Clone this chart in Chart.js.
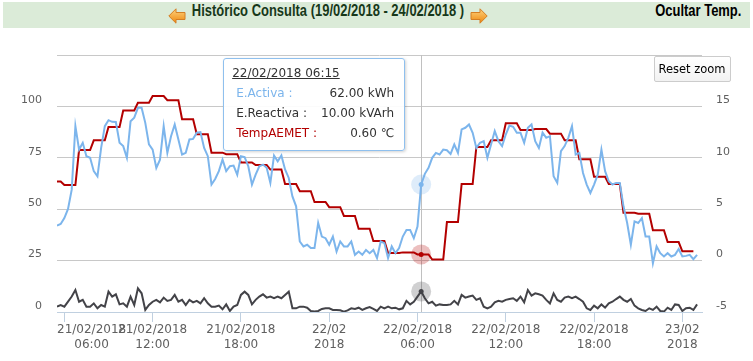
<!DOCTYPE html>
<html>
<head>
<meta charset="utf-8">
<script src="https://cdn.jsdelivr.net/npm/chart.js@4.4.1/dist/chart.umd.min.js"></script>
<style>
  html, body { margin:0; padding:0; background:#fff; }
  #wrap { position:relative; width:753px; height:361px; overflow:hidden; }
  #c { position:absolute; left:0; top:0; }
  #band { position:absolute; left:3px; top:2px; width:747px; height:26px; background:#dbebd8; }
  #title { position:absolute; left:0; top:2px; width:656px; height:26px; line-height:26px; text-align:center;
           font:bold 16px "Liberation Sans", Arial, sans-serif; color:#17381a;
           transform:scaleX(0.81); transform-origin:328px 50%; white-space:nowrap; }
  #hide { position:absolute; right:12px; top:2px; height:26px; line-height:26px; white-space:nowrap;
          font:bold 16px "Liberation Sans", Arial, sans-serif; color:#000;
          transform:scaleX(0.81); transform-origin:100% 50%; }
  .arr { position:absolute; top:8px; }
  #reset { position:absolute; left:653.5px; top:55.5px; width:77px; height:26px; box-sizing:border-box;
           border:1px solid #cccccc; border-radius:2px; background:linear-gradient(#ffffff,#f2f2f2);
           font:11.5px "DejaVu Sans", sans-serif; color:#000; text-align:center; line-height:24px; }
  #tip { position:absolute; width:182px; height:93px; box-sizing:border-box; border:1px solid #8fc0ee;
         border-radius:3px; background:rgba(255,255,255,0.92); box-shadow:1px 1px 3px rgba(0,0,0,0.18);
         font:12px "DejaVu Sans", sans-serif; color:#333; }
  #tip div { position:absolute; line-height:14px; white-space:nowrap; }
  #tip .t { left:8px; top:7px; text-decoration:underline; }
  #tip .l { left:12px; }
  #tip .v { right:10px; text-align:right; }
</style>
</head>
<body>
<div id="wrap">
  <canvas id="c" width="753" height="361"></canvas>
  <div id="band"></div>
  <svg class="arr" style="left:168px" width="18" height="16" viewBox="0 0 18 16">
    <defs><linearGradient id="ga" x1="0" y1="0" x2="0" y2="1"><stop offset="0" stop-color="#fdd37e"/><stop offset="1" stop-color="#ee870f"/></linearGradient></defs>
    <polygon points="0.8,8 8,0.8 8,4.5 17,4.5 17,11.5 8,11.5 8,15.2" fill="url(#ga)" stroke="#d47f25" stroke-width="1"/>
  </svg>
  <div id="title">Histórico Consulta (19/02/2018 - 24/02/2018 )</div>
  <svg class="arr" style="left:470px" width="18" height="16" viewBox="0 0 18 16">
    <defs><linearGradient id="gb" x1="0" y1="0" x2="0" y2="1"><stop offset="0" stop-color="#fdd37e"/><stop offset="1" stop-color="#ee870f"/></linearGradient></defs>
    <polygon points="17.2,8 10,0.8 10,4.5 1,4.5 1,11.5 10,11.5 10,15.2" fill="url(#gb)" stroke="#d47f25" stroke-width="1"/>
  </svg>
  <div id="hide">Ocultar Temp.</div>
  <div id="reset">Reset zoom</div>
  <div id="tip"></div>
</div>
<script>
// ---- time axis: 15-minute samples starting 21/02/2018 05:30 (hours since 21/02/2018 00:00)
const startHour = 5.5;
const stepHours = 0.25;
const xMin = 5.5;
const xMax = 49.336;

// x tick positions (hours) and their labels
const tickHours = [6, 12, 18, 24, 30, 36, 42, 48];
const tickLabels = [
  ['21/02/2018', '06:00'], ['21/02/2018', '12:00'], ['21/02/2018', '18:00'], ['22/02', '2018'],
  ['22/02/2018', '06:00'], ['22/02/2018', '12:00'], ['22/02/2018', '18:00'], ['23/02', '2018']
];

// E.Activa (kWh), every 15 min
const activa = [
  42.0, 42.8, 45.7, 50.1, 59.5, 90.4, 79.0, 82.3, 75.8, 75.0,
  68.5, 66.0, 79.8, 90.4, 93.3, 92.5, 92.4, 82.3, 80.7, 75.0,
  92.8, 94.5, 99.3, 99.3, 92.0, 81.5, 79.0, 70.1, 74.1, 90.4,
  77.4, 85.5, 91.2, 83.9, 76.6, 77.4, 83.9, 84.2, 87.2, 87.5,
  79.8, 75.8, 62.0, 64.7, 68.5, 74.1, 68.5, 70.9, 71.2, 66.8,
  75.8, 75.3, 70.9, 62.0, 66.8, 70.9, 71.7, 70.1, 62.8, 76.1,
  73.3, 76.1, 69.3, 65.2,
  56.2, 51.4, 34.3, 31.9, 32.7, 31.1, 31.1, 43.3, 36.7, 35.9,
  32.7, 36.7, 29.4, 34.3, 31.9, 31.9, 34.3, 27.8, 29.4, 27.8,
  30.2, 28.6, 30.2, 26.2, 34.3, 33.5, 26.2, 31.9, 28.6, 31.1,
  36.7, 39.9, 39.9, 35.9, 41.5, 62.0,
  67.2, 70.1, 75.0, 77.4, 76.6, 79.0, 78.7, 76.9, 81.5, 77.4,
  88.8, 89.6, 91.2, 87.2, 79.8, 82.3, 83.1, 75.0, 81.5, 88.0,
  83.1, 80.7, 86.3, 90.7, 90.1, 87.2,
  87.2, 82.3, 89.6, 91.2, 83.1, 79.8, 87.2, 84.7, 85.5, 66.0,
  62.8, 78.2, 80.7, 84.7, 90.4, 76.6, 77.4, 67.6, 62.0, 57.9,
  62.0, 66.8, 79.0, 68.5, 63.6, 62.0, 62.8, 62.8, 51.4, 43.3,
  32.7, 44.1, 43.3, 45.7, 36.7, 36.7, 23.7, 31.9, 28.6, 27.0,
  28.6, 27.0, 27.8, 30.6, 27.0, 27.3, 27.8, 25.7, 27.8
];

// E.Reactiva (kVArh), every 15 min
const reactiva = [
  2.6, 3.4, 2.6, 5.0, 7.5, 10.7, 5.0, 5.9, 2.6, 2.6,
  4.2, 1.8, 3.4, 2.6, 9.9, 7.5, 8.6, 3.7, 4.2, 2.6,
  7.5, 3.4, 11.5, 9.1, 1.0, 3.4, 5.0, 5.9, 4.7, 7.0,
  5.4, 5.9, 8.3, 5.0, 5.9, 3.4, 5.9, 4.7, 5.4, 4.2,
  6.7, 4.2, 2.6, 2.6, 3.1, 1.3, 3.7, 0.5, 2.6, 3.4,
  8.3, 9.9, 8.3, 3.7, 5.9, 7.5, 8.6, 7.0, 7.5, 6.7,
  7.5, 6.7, 8.3, 9.9, 1.8, 1.8, 2.6, 2.6, 2.1, 0.5,
  0.2, 0.5, 1.5, 1.8, 1.8, 1.0, 1.0, 0.8, 0.2, 0.8,
  1.8, 1.5, 2.1, 1.0, 1.8, 2.4, 1.5, 0.5,
  2.6, 1.8, 2.6, 1.8, 2.1, 1.3, 1.8, 5.4, 3.7, 5.0,
  7.5, 10.0, 6.7, 4.2, 5.0, 3.1, 3.7, 3.4, 3.4, 3.7,
  5.4, 3.7, 8.3, 7.0, 7.5, 8.0, 5.9, 6.7, 2.6, 1.8,
  2.6, 4.7, 5.4, 5.0, 5.9, 6.3, 6.7, 5.4, 7.5, 4.7,
  10.7, 8.0, 9.1, 8.6, 8.0, 5.9, 4.2, 9.1, 5.9, 5.0,
  7.0, 7.5, 6.7, 7.5, 6.3, 5.0, 1.8, 1.0, 3.1, 1.8,
  3.7, 2.1, 4.2, 5.0, 6.3, 7.5, 5.9, 5.0, 6.3, 3.1,
  1.8, 1.0, 0.5, 1.8, 1.0, 2.6, 0.5, 0.2, 2.1, 1.0,
  3.7, 3.4, 0.5, 1.8, 2.1, 1.0, 3.7
];

// TempAEMET (°C), hourly values for hours 5 .. 48 (since 21/02 00:00), repeated for each quarter
const tempFirstHour = 5;
const tempHourly = [
  7.7, 7.35, 10.75, 11.7, 13.0, 14.6, 15.35, 16.0, 15.6, 13.75,
  12.3, 10.5, 10.35, 9.55, 9.3, 8.85, 7.45, 6.75, 5.7, 5.2,
  4.35, 3.1, 1.9, 0.75, 0.8, 0.6, 0.1, 3.75, 7.45, 11.05,
  11.7, 13.35, 12.7, 12.8, 12.35, 11.7, 9.85, 8.15, 7.45, 4.65,
  4.55, 2.95, 1.8, 0.9
];
const tempSamples = 174;

const hoverIndex = 99; // 22/02/2018 06:15

const colActiva = '#7cb5ec', colReactiva = '#434348', colTemp = '#b30000';

const tAt = i => startHour + i * stepHours;
const activaPts = activa.map((v, i) => ({ x: tAt(i), y: v }));
const reactivaPts = reactiva.map((v, i) => ({ x: tAt(i), y: v }));
const tempPts = [];
for (let i = 0; i < tempSamples; i++) {
  const h = tAt(i);
  tempPts.push({ x: h, y: tempHourly[Math.floor(h) - tempFirstHour] });
}

const FONT = '"DejaVu Sans", sans-serif';

const deco = {
  id: 'deco',
  beforeDatasetsDraw(chart) {
    const { ctx, chartArea } = chart;
    const px = chart.getDatasetMeta(0).data[hoverIndex].x;
    ctx.save();
    ctx.strokeStyle = '#c0c0c0';
    ctx.lineWidth = 1;
    ctx.beginPath();
    ctx.moveTo(Math.round(px) + 0.5, chartArea.top);
    ctx.lineTo(Math.round(px) + 0.5, chartArea.bottom);
    ctx.stroke();
    ctx.restore();
  },
  afterDatasetsDraw(chart) {
    const { ctx } = chart;
    const halo = ['rgba(124,181,236,0.25)', 'rgba(67,67,72,0.25)', 'rgba(179,0,0,0.25)'];
    const solid = [colActiva, colReactiva, colTemp];
    ctx.save();
    for (let d = 0; d < 3; d++) {
      const el = chart.getDatasetMeta(d).data[hoverIndex];
      ctx.fillStyle = halo[d];
      ctx.beginPath(); ctx.arc(el.x, el.y, 10, 0, Math.PI * 2); ctx.fill();
      ctx.fillStyle = solid[d];
      ctx.beginPath(); ctx.arc(el.x, el.y, 2.5, 0, Math.PI * 2); ctx.fill();
    }
    ctx.restore();
  },
  afterDraw(chart) {
    const { ctx, chartArea } = chart;
    const xs = chart.scales.x;
    ctx.save();
    ctx.font = '12px ' + FONT;
    ctx.fillStyle = '#606060';
    ctx.textAlign = 'center';
    ctx.textBaseline = 'middle';
    tickHours.forEach((h, k) => {
      const lines = tickLabels[k];
      const w = Math.max(...lines.map(s => ctx.measureText(s).width));
      let c = xs.getPixelForValue(h);
      if (c - w / 2 < chartArea.left) c = chartArea.left + w / 2;
      if (c + w / 2 > chart.width) c = chart.width - w / 2;
      lines.forEach((s, j) => ctx.fillText(s, c, chartArea.bottom + 17.5 + j * 15));
    });
    ctx.restore();
  }
};

const chart = new Chart(document.getElementById('c'), {
  type: 'line',
  data: {
    datasets: [
      { label: 'E.Activa', data: activaPts, yAxisID: 'y', borderColor: colActiva, borderWidth: 2, pointRadius: 0, tension: 0 },
      { label: 'E.Reactiva', data: reactivaPts, yAxisID: 'y', borderColor: colReactiva, borderWidth: 2, pointRadius: 0, tension: 0 },
      { label: 'TempAEMET', data: tempPts, yAxisID: 'y1', borderColor: colTemp, borderWidth: 2, pointRadius: 0, tension: 0 }
    ]
  },
  options: {
    responsive: false,
    animation: false,
    events: [],
    layout: { padding: { top: 55, left: 0, right: 0, bottom: 0 } },
    plugins: { legend: { display: false }, tooltip: { enabled: false }, title: { display: false } },
    scales: {
      x: {
        type: 'linear', min: xMin, max: xMax,
        afterBuildTicks: s => { s.ticks = tickHours.map(v => ({ value: v })); },
        afterFit: s => { s.height = 49; },
        ticks: { display: false },
        grid: { drawOnChartArea: false, drawTicks: true, tickLength: 10, color: '#c0d0e0', lineWidth: 1 },
        border: { color: '#c0d0e0', width: 1 }
      },
      y: {
        position: 'left', min: 0, max: 125,
        afterFit: s => { s.width = 57; },
        ticks: { stepSize: 25, padding: 15, labelOffset: -6, color: '#606060', font: { family: FONT, size: 11 },
                 callback: v => (v === 125 ? '' : v) },
        grid: { color: '#c8c8c8', drawTicks: false },
        border: { display: false }
      },
      y1: {
        position: 'right', min: -5, max: 20,
        afterFit: s => { s.width = 51; },
        ticks: { stepSize: 5, padding: 14, labelOffset: -6, color: '#606060', font: { family: FONT, size: 11 },
                 callback: v => (v === 20 ? '' : v) },
        grid: { display: false, drawTicks: false },
        border: { display: false }
      }
    }
  },
  plugins: [deco]
});

// tooltip box (Highcharts style) for the hovered sample
(function () {
  const h = tAt(hoverIndex);
  const day = 21 + Math.floor(h / 24);
  const hh = Math.floor(h % 24), mm = Math.round((h - Math.floor(h)) * 60);
  const pad = n => String(n).padStart(2, '0');
  const title = pad(day) + '/02/2018 ' + pad(hh) + ':' + pad(mm);
  const tip = document.getElementById('tip');
  const rows = [
    ['E.Activa :', activa[hoverIndex].toFixed(2) + ' kWh', colActiva],
    ['E.Reactiva :', reactiva[hoverIndex].toFixed(2) + ' kVArh', '#333333'],
    ['TempAEMET :', tempPts[hoverIndex].y.toFixed(2) + ' \u2103', colTemp]
  ];
  let html = '<div class="t">' + title + '</div>';
  rows.forEach((r, k) => {
    const top = 27 + k * 20;
    html += '<div class="l" style="top:' + top + 'px;color:' + r[2] + '">' + r[0] + '</div>';
    html += '<div class="v" style="top:' + top + 'px">' + r[1] + '</div>';
  });
  tip.innerHTML = html;
  const px = chart.scales.x.getPixelForValue(h);
  tip.style.left = (px - 198) + 'px';
  tip.style.top = (chart.chartArea.top + 2.5) + 'px';
})();
</script>
</body>
</html>
